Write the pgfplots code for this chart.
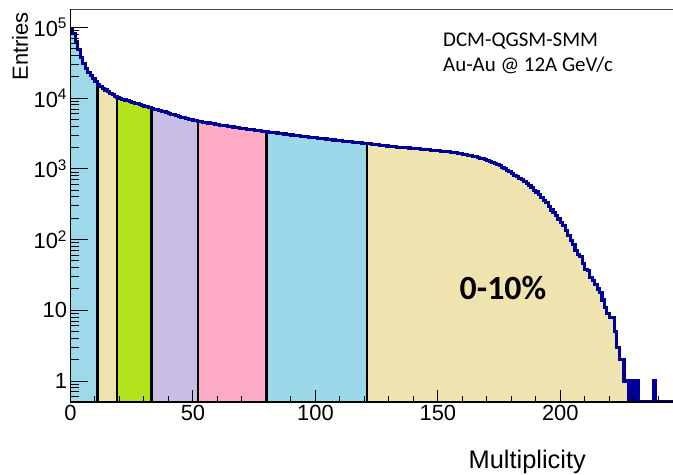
\documentclass[border=0pt]{standalone}
\usepackage{fontspec}
\setmainfont{Liberation Sans}
\newfontfamily\calibri{Carlito}
\usepackage{pgfplots}
\usepackage{pgfplotstable}
\pgfplotsset{compat=1.18}
\definecolor{cA}{RGB}{157,217,234}
\definecolor{cB}{RGB}{239,227,176}
\definecolor{cC}{RGB}{178,227,29}
\definecolor{cD}{RGB}{201,189,229}
\definecolor{cE}{RGB}{253,170,198}
\definecolor{cF}{RGB}{155,216,233}
\definecolor{histc}{RGB}{0,0,153}
\pgfplotstableread{
x y
0 97000
1 82000
2 64000
3 49000
4 38000
5 30500
6 26000
7 23000
8 20800
9 18900
10 17200
11 15800
12 14800
13 13800
14 13000
15 12300
16 11700
17 11100
18 10600
19 10200
20 9900
21 9650
22 9400
23 9150
24 8900
25 8700
26 8500
27 8300
28 8100
29 7900
30 7700
31 7500
32 7300
33 7150
34 7000
35 6850
36 6700
37 6550
38 6400
39 6250
40 6100
41 5950
42 5800
43 5650
44 5500
45 5350
46 5250
47 5150
48 5050
49 4950
50 4850
51 4780
52 4700
53 4640
54 4580
55 4510
56 4450
57 4390
58 4330
59 4270
60 4210
61 4150
62 4100
63 4040
64 3990
65 3930
66 3900
67 3850
68 3810
69 3760
70 3720
71 3680
72 3640
73 3600
74 3560
75 3520
76 3480
77 3440
78 3410
79 3380
80 3340
81 3310
82 3270
83 3240
84 3210
85 3170
86 3140
87 3110
88 3080
89 3040
90 3010
91 2980
92 2950
93 2920
94 2890
95 2860
96 2840
97 2810
98 2790
99 2770
100 2740
101 2710
102 2690
103 2660
104 2640
105 2610
106 2590
107 2560
108 2540
109 2510
110 2490
111 2470
112 2450
113 2430
114 2410
115 2390
116 2370
117 2350
118 2330
119 2310
120 2290
121 2270
122 2250
123 2230
124 2200
125 2180
126 2160
127 2140
128 2120
129 2100
130 2080
131 2060
132 2040
133 2020
134 2010
135 2000
136 1990
137 1980
138 1970
139 1960
140 1950
141 1930
142 1920
143 1900
144 1890
145 1870
146 1860
147 1840
148 1830
149 1810
150 1800
151 1780
152 1770
153 1750
154 1740
155 1720
156 1700
157 1680
158 1650
159 1630
160 1600
161 1580
162 1560
163 1540
164 1510
165 1480
166 1450
167 1410
168 1380
169 1340
170 1300
171 1260
172 1220
173 1180
174 1140
175 1100
176 1050
177 1010
178 960
179 910
180 860
181 810
182 780
183 740
184 700
185 655
186 620
187 580
188 540
189 500
190 470
191 430
192 395
193 360
194 330
195 290
196 262
197 240
198 220
199 195
200 175
201 160
202 135
203 115
204 98
205 85
206 70
207 62
208 57
209 46
210 38
211 36
212 29
213 26
214 23
215 20
216 18
217 14
218 11
219 9
220 8
221 8
222 5
223 3
224 2
225 2
226 1
227 1
228 0.52
229 1
230 0.52
231 1
232 0.52
233 0.52
234 0.52
235 0.52
236 0.52
237 0.52
238 1
239 0.52
240 0.52
241 0.52
242 0.52
243 0.52
244 0.52
245 0.52
246 0.52
}\hist
\begin{document}
\begin{tikzpicture}
\begin{axis}[
  scale only axis, width=602.5bp, height=392.5bp,
  xmin=0, xmax=246, ymode=log, ymin=0.505, ymax=1.79e5,
  log origin=infty,
  axis lines=left, axis line style={-, line width=1.3bp, black},
  tick align=inside,
  xtick={0,50,100,150,200}, xticklabels={0,50,100,150,200},
  minor xtick={10,20,...,240},
  ytick={1,10,100,1000,10000,100000},
  yticklabels={1,10,10\textsuperscript{2},10\textsuperscript{3},10\textsuperscript{4},10\textsuperscript{5}},
  minor ytick={0.6,0.7,0.8,0.9,2,3,4,5,6,7,8,9,20,30,40,50,60,70,80,90,200,300,400,500,600,700,800,900,2000,3000,4000,5000,6000,7000,8000,9000,20000,30000,40000,50000,60000,70000,80000,90000},
  xtick style={/pgfplots/major tick length=11.8bp,/pgfplots/minor tick length=5.9bp, line width=1bp, black},
  ytick style={/pgfplots/major tick length=18bp,/pgfplots/minor tick length=9bp, line width=1bp, black},
  ticklabel style={font=\fontsize{22}{26}\selectfont},
  axis on top,
]
\addplot[const plot, fill=cA, draw=none, restrict x to domain=0:11] table {\hist} \closedcycle;
\addplot[const plot, fill=cB, draw=none, restrict x to domain=11:19] table {\hist} \closedcycle;
\addplot[const plot, fill=cC, draw=none, restrict x to domain=19:33] table {\hist} \closedcycle;
\addplot[const plot, fill=cD, draw=none, restrict x to domain=33:52] table {\hist} \closedcycle;
\addplot[const plot, fill=cE, draw=none, restrict x to domain=52:80] table {\hist} \closedcycle;
\addplot[const plot, fill=cF, draw=none, restrict x to domain=80:121] table {\hist} \closedcycle;
\addplot[const plot, fill=cB, draw=none, restrict x to domain=121:246] table {\hist} \closedcycle;
\addplot[ycomb, black, line width=2.7bp] coordinates {(11,16000) (19,10300) (33,7100) (52,4700) (80,3350) (121,2280)};
\addplot[const plot, histc, line width=3.1bp] table {\hist};
\end{axis}
\draw[gray!60!black, line width=1.2bp] (0,392.5bp) -- (602.5bp,392.5bp);
\node[rotate=90, anchor=east, inner sep=0, font=\fontsize{22}{26}\selectfont] at (-50.5bp,390bp) {Entries};
\node[anchor=base east, inner sep=0, font=\fontsize{25.5}{30}\selectfont] at (515.5bp,-66.5bp) {Multiplicity};
\node[anchor=base west, inner sep=0, font=\calibri\fontsize{21}{25}\selectfont] at (372.5bp,355.3bp) {DCM-QGSM-SMM};
\node[anchor=base west, inner sep=0, font=\calibri\fontsize{21}{25}\selectfont] at (372.5bp,330.3bp) {Au-Au @ 12A GeV/c};
\node[anchor=base, inner sep=0, font=\calibri\bfseries\fontsize{34}{40}\selectfont] at (432.5bp,102bp) {0-10\%};
\pgfresetboundingbox
\path[use as bounding box] (-70.5bp,-73bp) rectangle (602.5bp,402bp);
\end{tikzpicture}
\end{document}
